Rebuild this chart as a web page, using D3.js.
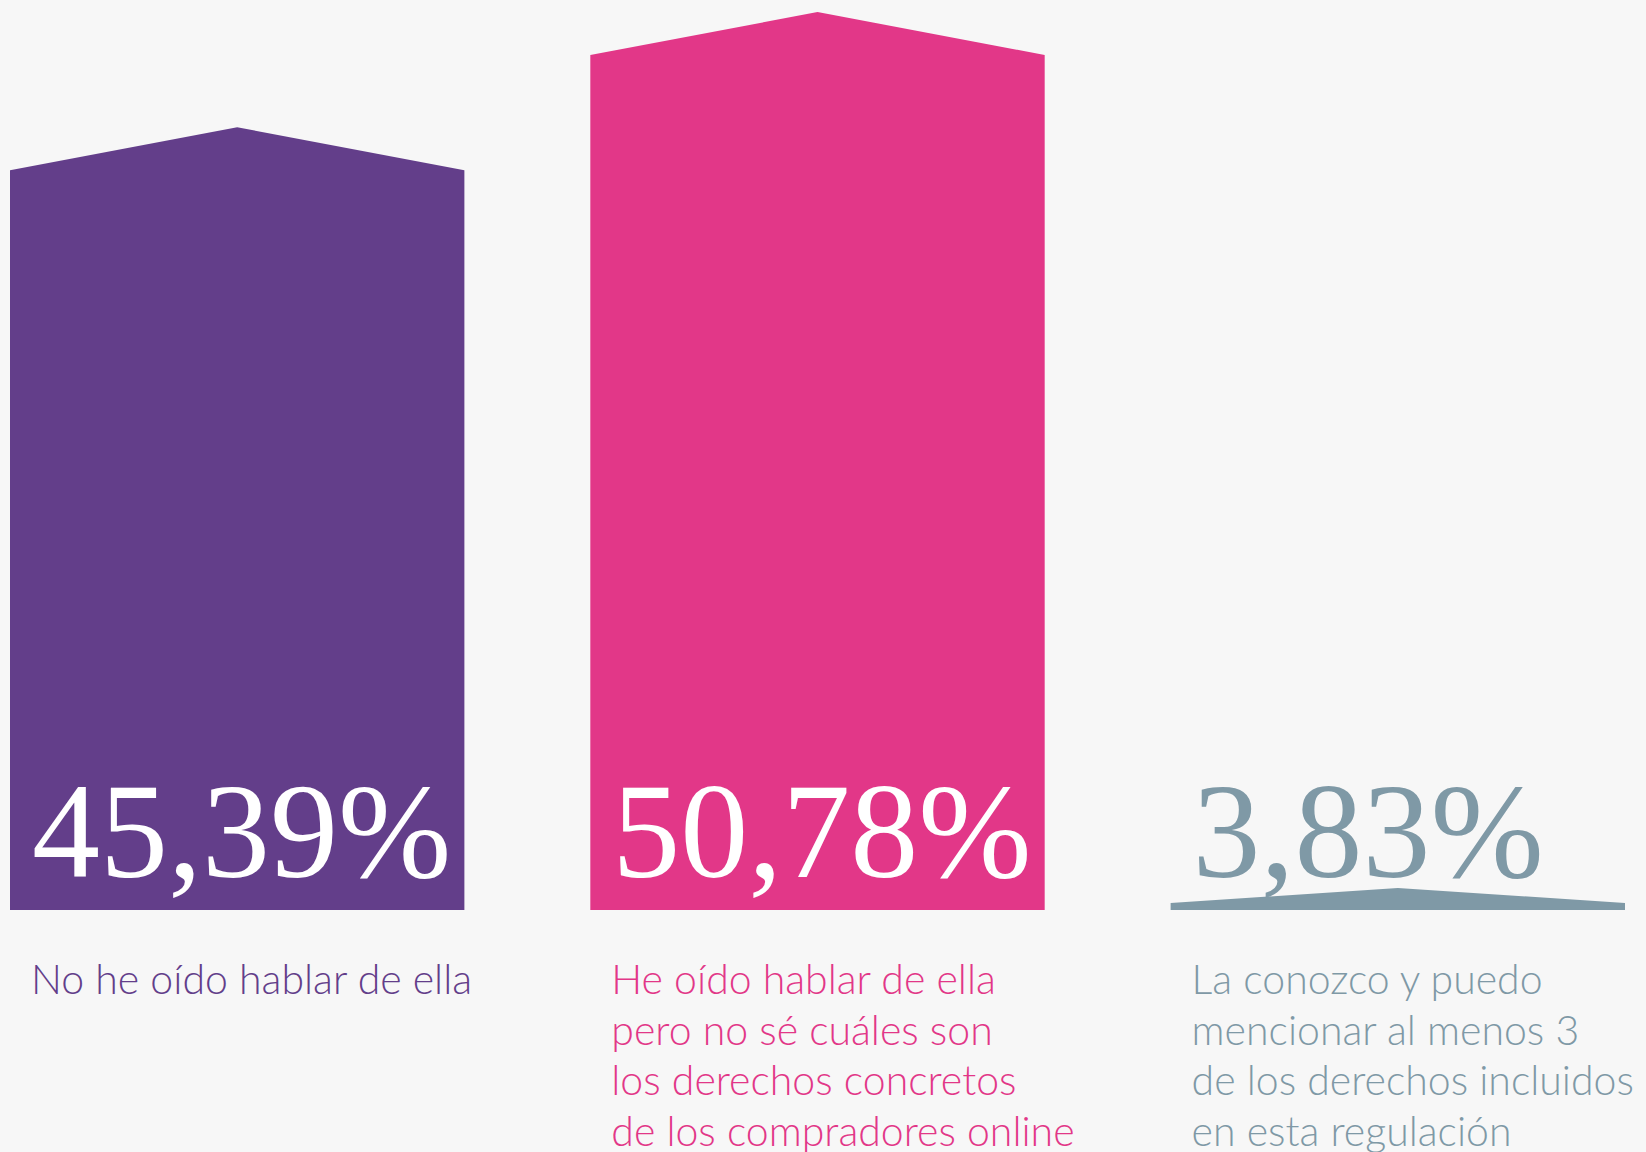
<!DOCTYPE html>
<html>
<head>
<meta charset="utf-8">
<script src="https://cdn.jsdelivr.net/npm/d3@7"></script>
<style>
  body { margin: 0; background: #f7f7f7; }
  svg { display: block; }
</style>
</head>
<body>
<div id="chart"></div>
<script>
const categories = ["nohe", "hehe", "conozco"];
const values = [45.39, 50.78, 3.83];
const valueLabels = ["45,39%", "50,78%", "3,83%"];
const labelLines = [
  ["No he oído hablar de ella"],
  ["He oído hablar de ella", "pero no sé cuáles son", "los derechos concretos", "de los compradores online"],
  ["La conozco y puedo", "mencionar al menos 3", "de los derechos incluidos", "en esta regulación"]
];
const colors = ["#633e8a", "#e23788", "#7f99a6"];
const numberColors = ["#ffffff", "#ffffff", "#7f99a6"];

const width = 1646;
const height = 1152;
const baseY = 910;
const roof = 43;

const svg = d3.select("#chart")
  .append("svg")
  .attr("width", width)
  .attr("height", height);

svg.append("rect")
  .attr("width", width)
  .attr("height", height)
  .attr("fill", "#f7f7f7");

// Scales
const xScale = d3.scaleBand()
  .domain(categories)
  .range([10, 1625])
  .paddingInner(0.217)
  .paddingOuter(0);

const yScale = d3.scaleLinear()
  .domain([10.8, 50.78])
  .range([baseY, 55])
  .clamp(true);

svg.selectAll(".bar")
  .data(values)
  .join("path")
  .attr("class", "bar")
  .attr("fill", (d, i) => colors[i])
  .attr("d", (d, i) => {
    const x0 = xScale(categories[i]);
    const w = xScale.bandwidth();
    const side = Math.max(7, baseY - yScale(d));
    const r = Math.min(roof, side * 2 + 1);
    const top = baseY - side;
    return `M${x0},${baseY}L${x0},${top}L${x0 + w / 2},${top - r}L${x0 + w},${top}L${x0 + w},${baseY}Z`;
  });

// value numbers
svg.selectAll(".num")
  .data(valueLabels)
  .join("text")
  .attr("class", "num")
  .attr("x", (d, i) => xScale(categories[i]) + 22)
  .attr("y", 877)
  .attr("fill", (d, i) => numberColors[i])
  .attr("font-family", "'Liberation Serif', 'DejaVu Serif', serif")
  .attr("font-size", 136)
  .text(d => d);

// category labels
const labels = svg.selectAll(".label")
  .data(labelLines)
  .join("text")
  .attr("class", "label")
  .attr("fill", (d, i) => colors[i])
  .attr("font-family", "Lato, 'Open Sans', sans-serif")
  .attr("font-weight", 300)
  .attr("font-size", 41);

labels.selectAll("tspan")
  .data((d, i) => d.map(t => ({ t, i })))
  .join("tspan")
  .attr("x", d => xScale(categories[d.i]) + 21)
  .attr("y", (d, j) => 994 + j * 50.7)
  .text(d => d.t);
</script>
</body>
</html>
